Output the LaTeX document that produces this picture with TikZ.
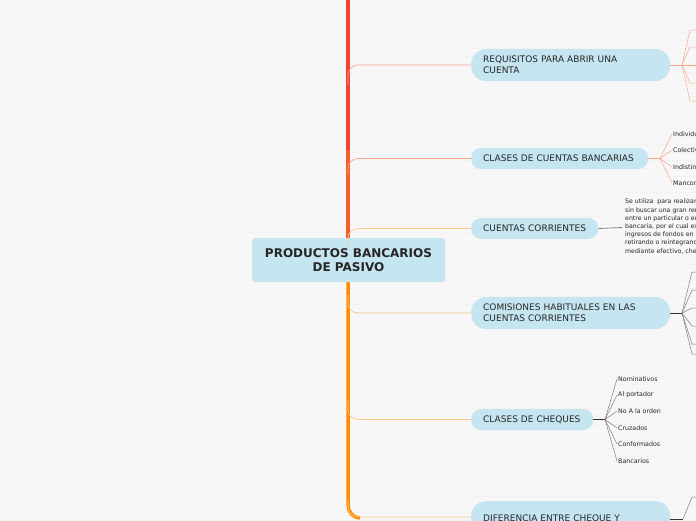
\documentclass[tikz,border=0pt]{standalone}
\usepackage{fontspec}
\setmainfont{DejaVu Sans}
\begin{document}
\begin{tikzpicture}[x=1pt,y=-1pt,
  topic/.style={fill=nodebg,rounded corners=10pt,minimum height=21pt,text=black!85,font=\fontsize{9}{11}\selectfont,align=left,inner ysep=0pt,inner xsep=12pt,anchor=west},
  leaf/.style={font=\fontsize{6.3}{7}\selectfont,text=black!85,anchor=west,inner sep=1pt},
  br/.style={line width=0.7pt,rounded corners=10pt}]
\definecolor{nodebg}{HTML}{C5E5F0}
\definecolor{cA}{HTML}{EE4335}
\definecolor{cB}{HTML}{F5602A}
\definecolor{cC}{HTML}{FF8C00}
\definecolor{lA}{HTML}{F7A58A}
\definecolor{lC}{HTML}{FDC88A}
\useasboundingbox (0,0) rectangle (696,520);
\clip (0,0) rectangle (696,520);
\fill[black!3] (0,0) rectangle (696,520);
\foreach \y in {8,16,...,520} \draw[black!5,line width=0.4pt] (0,\y) -- (696,\y);
% trunk
\draw[cA,line width=3.5pt] (348,-5) -- (348,150);
\draw[cB,line width=3.5pt] (348,150) -- (348,240);
\draw[cC,line width=3.5pt] (348,240) -- (348,505) to[out=-90,in=180] (360,518);
% root
\node[fill=nodebg,rounded corners=3pt,minimum width=193pt,minimum height=44pt,align=center,font=\bfseries\fontsize{12}{14}\selectfont,text=black!85] (root) at (348.5,260) {PRODUCTOS BANCARIOS\\DE PASIVO};
% nodes
\node[topic,minimum width=182pt] (t0) at (478,-12) {};
\node[topic,minimum height=32pt,rounded corners=15pt,text width=175pt] (n1) at (471,65) {REQUISITOS PARA ABRIR UNA\\CUENTA};
\node[topic,text width=153pt] (n2) at (471,158.5) {CLASES DE CUENTAS BANCARIAS};
\node[topic,text width=103pt] (n3) at (471,228.5) {CUENTAS CORRIENTES};
\node[topic,minimum height=32pt,rounded corners=15pt,text width=175pt] (n4) at (471,313) {COMISIONES HABITUALES EN LAS\\CUENTAS CORRIENTES};
\node[topic,text width=98pt] (n5) at (471,419.5) {CLASES DE CHEQUES};
\node[topic,minimum height=36pt,rounded corners=15pt,text width=175pt,anchor=north west] (n6) at (471,501) {DIFERENCIA ENTRE CHEQUE Y\\[10pt]};
% branches
\draw[br,lA] (348,85) |- (n1.west);
\draw[br,lA] (348,175) |- (n2.west);
\draw[br,lC] (348,245) |- (n3.west);
\draw[br,lC] (348,295) |- (n4.west);
\draw[br,lC] (348,400) |- (n5.west);
\draw[br,lC] (348,500) |- (n6.west |- 0,517);
% REQUISITOS fan
\coordinate (f1) at (682,65);
\draw[lA,line width=1pt] (n1.east) -- (f1);
\foreach \y in {30,47,83,101} \draw[lA,line width=0.5pt] (f1) -- (690,\y) -- (700,\y);
\draw[lA,line width=0.5pt] (f1) -- (700,65);
% CLASES CUENTAS fan
\coordinate (f2) at (660,158.5);
\draw[lA,line width=1pt] (n2.east) -- (f2);
\foreach \y/\t in {134/Individuales,150/Colectivas,167/Indistintas,183/Mancomunadas}{
  \node[leaf] (c\y) at (672,\y) {\t};
  \draw[lA,line width=0.5pt] (f2) -- (c\y.west);}
% CUENTAS CORRIENTES text
\node[leaf,align=left,anchor=north west,font=\fontsize{6.2}{8.2}\selectfont] (p3) at (624,198) {Se utiliza\ \ para realizar operaciones\\sin buscar una gran rentabilidad\\entre un particular o empresa\\bancaria, por el cual existen\\ingresos de fondos en la cuenta\\retirando o reintegrando fondos\\mediante efectivo, cheques};
\draw[gray,line width=0.8pt] (n3.east) -- (622,227.5);
% COMISIONES fan
\coordinate (f4) at (682,313);
\draw[black!80,line width=1pt] (n4.east) -- (f4);
\foreach \y in {272,290,308,326,344} \draw[gray,line width=0.5pt] (f4) -- (692,\y) -- (700,\y);
\draw[gray,line width=0.5pt] (f4) -- (692,354) -- (700,354);
% CHEQUES fan
\coordinate (f5) at (605,419.5);
\draw[black!80,line width=1pt] (n5.east) -- (f5);
\foreach \y/\t in {379/Nominativos,395/Al portador,411/No A la orden,428/Cruzados,444/Conformados,461/Bancarios}{
  \node[leaf] (h\y) at (617,\y) {\t};
  \draw[gray,line width=0.5pt] (f5) -- (h\y.west);}
% DIFERENCIA
\coordinate (f6) at (683,519);
\draw[black!80,line width=1pt] (n6.east |- 0,519) -- (f6);
\draw[gray,line width=0.5pt] (f6) -- (692,497) -- (700,497);
\end{tikzpicture}
\end{document}
